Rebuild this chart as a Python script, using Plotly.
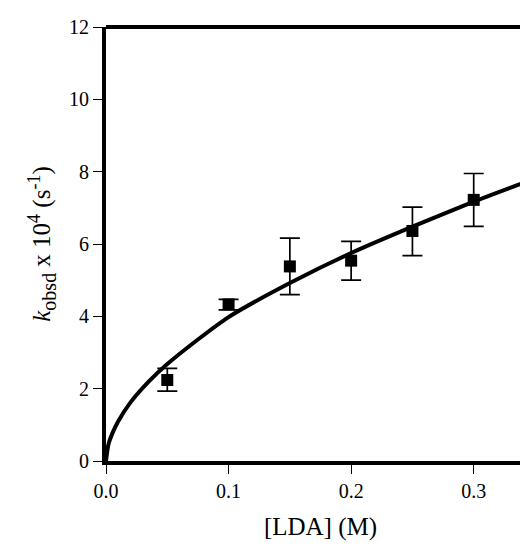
import plotly.graph_objects as go

# Data
lda = [0.05, 0.10, 0.15, 0.20, 0.25, 0.30]
kobs = [2.24, 4.33, 5.38, 5.54, 6.36, 7.22]
err_plus = [0.32, 0.14, 0.78, 0.53, 0.66, 0.73]
err_minus = [0.31, 0.15, 0.78, 0.54, 0.68, 0.73]

# fitted curve
curve_x = [0, 0.002, 0.005, 0.01, 0.02, 0.035, 0.05, 0.075, 0.1, 0.15, 0.2, 0.25, 0.3, 0.35]
curve_y = [0, 0.46, 0.75, 1.10, 1.62, 2.20, 2.68, 3.36, 3.98, 4.92, 5.75, 6.48, 7.17, 7.81]

x_ticks = [0.0, 0.1, 0.2, 0.3]
y_ticks = [0, 2, 4, 6, 8, 10, 12]

font_family = "Liberation Serif"

y_title = ('<i>k</i><sub><span style="font-size:20px">obsd</span></sub> x 10'
           '<sup><span style="font-size:18px">4</span></sup> (s'
           '<sup><span style="font-size:18px">-1</span></sup>)')

fig = go.Figure()
fig.add_trace(go.Scatter(
    x=curve_x, y=curve_y, mode="lines",
    line=dict(color="black", width=4, shape="spline", smoothing=0.6),
    hoverinfo="skip", showlegend=False,
))
fig.add_trace(go.Scatter(
    x=lda, y=kobs, mode="markers",
    marker=dict(symbol="square", size=12, color="black"),
    error_y=dict(type="data", array=err_plus, arrayminus=err_minus,
                 color="black", thickness=1.7, width=10),
    showlegend=False,
))

fig.update_layout(
    width=528, height=546,
    margin=dict(l=98, r=1, t=19, b=93),
    paper_bgcolor="white", plot_bgcolor="white",
    font=dict(family=font_family, size=20, color="black"),
    xaxis=dict(
        range=[0, 0.35], tickvals=x_ticks, ticktext=[f"{v:.1f}" for v in x_ticks],
        ticks="outside", ticklen=9, tickwidth=1.3, tickcolor="black",
        showline=True, linewidth=4, linecolor="black", showgrid=False, zeroline=False,
        title=dict(text="[LDA] (M)", font=dict(size=25), standoff=17),
        automargin=False,
    ),
    yaxis=dict(
        range=[0, 12], tickvals=y_ticks,
        ticks="outside", ticklen=9, tickwidth=1.3, tickcolor="black",
        showline=True, linewidth=4, linecolor="black", showgrid=False, zeroline=False,
        title=dict(text=y_title, font=dict(size=25), standoff=12),
        automargin=False,
    ),
    shapes=[
        dict(type="line", xref="paper", yref="paper", x0=0, x1=1, y0=1, y1=1,
             line=dict(color="black", width=4)),
        dict(type="line", xref="paper", yref="paper", x0=1, x1=1, y0=0, y1=1,
             line=dict(color="#333333", width=1.5)),
    ],
)

fig.write_html("out.html")
